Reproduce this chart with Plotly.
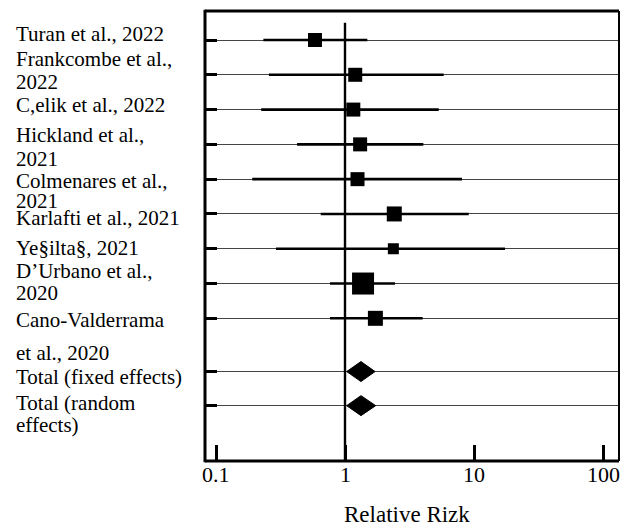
import math
import plotly.graph_objects as go

# ---------------- data ----------------
studies = [
    "Turan et al., 2022",
    "Frankcombe et al.,\n2022",
    "C,elik et al., 2022",
    "Hickland et al.,\n2021",
    "Colmenares et al.,\n2021",
    "Karlafti et al., 2021",
    "Ye§ilta§, 2021",
    "D’Urbano et al.,\n2020",
    "Cano-Valderrama\net al., 2020",
]
rr = [0.585, 1.20, 1.16, 1.31, 1.25, 2.41, 2.37, 1.38, 1.72]
ci_low = [0.233, 0.257, 0.224, 0.425, 0.191, 0.648, 0.292, 0.765, 0.765]
ci_high = [1.49, 5.82, 5.33, 4.05, 8.07, 9.10, 17.4, 2.44, 4.00]
weight_size = [14, 14, 14, 14, 14, 15, 11, 22, 15]

totals = ["Total (fixed effects)", "Total (random\neffects)"]
total_rr = [1.33, 1.33]
total_low = [1.03, 1.03]
total_high = [1.71, 1.73]

x_ticks = [0.1, 1, 10, 100]
x_ticktext = ["0.1", "1", "10", "100"]
x_title = "Relative Rizk"

# ---------------- layout helpers ----------------
W, H = 621, 528
M_L, M_R, M_T, M_B = 205, 2, 11, 67
PH = H - M_T - M_B
ROW0_PX, ROW_STEP = 40.0, 34.79
study_pos = list(range(len(studies)))
total_pos = [9.53, 10.51]
y_top = (M_T - ROW0_PX) / ROW_STEP
y_bot = (H - M_B - ROW0_PX) / ROW_STEP
FONT = "Liberation Serif, Times New Roman, serif"
TXT_SHIFT = -1.5


def py(px):
    return 1 - (px + TXT_SHIFT - M_T) / PH


fig = go.Figure()

# confidence intervals
cx, cy = [], []
for lo, hi, p in zip(ci_low, ci_high, study_pos):
    cx += [lo, hi, None]
    cy += [p, p, None]
fig.add_trace(go.Scatter(x=cx, y=cy, mode="lines",
                         line=dict(color="black", width=2.6),
                         hoverinfo="skip", showlegend=False))

# reference line at 1
fig.add_trace(go.Scatter(x=[1, 1], y=[-0.497, y_bot + 1], mode="lines",
                         line=dict(color="black", width=2.4),
                         hoverinfo="skip", showlegend=False))

# point estimates
fig.add_trace(go.Scatter(x=rr, y=study_pos, mode="markers",
                         marker=dict(symbol="square", size=weight_size,
                                     color="black", opacity=1,
                                     line=dict(width=0)),
                         showlegend=False))

# pooled diamonds
half_h = 10.0 / ROW_STEP
for lo, pt, hi, p in zip(total_low, total_rr, total_high, total_pos):
    fig.add_trace(go.Scatter(x=[lo, pt, hi, pt, lo],
                             y=[p, p - half_h, p, p + half_h, p],
                             mode="lines", fill="toself", fillcolor="black",
                             line=dict(color="black", width=1),
                             hoverinfo="skip", showlegend=False))

# study labels (one annotation per printed line)
label_line_px = [35.7, 60.7, 83.7, 107, 136.3, 160.7, 182.3, 202.3, 219.7,
                 249, 272, 294, 321.7, 354.7, 378, 404, 426.3]
lines = []
for lab in studies + totals:
    lines += lab.split("\n")
annotations = []
for txt, ypx in zip(lines, label_line_px):
    annotations.append(dict(text=txt, xref="paper", yref="paper",
                            x=(14 - M_L) / (W - M_L - M_R), xanchor="left",
                            y=py(ypx), yanchor="middle",
                            showarrow=False,
                            font=dict(family=FONT, size=21, color="black")))
# x tick labels
for v, t in zip(x_ticks, x_ticktext):
    annotations.append(dict(text=t, xref="x", yref="paper",
                            x=math.log10(v), xanchor="center",
                            y=py(475.5), yanchor="middle",
                            showarrow=False,
                            font=dict(family=FONT, size=22, color="black")))
annotations.append(dict(text=x_title, xref="paper", yref="paper",
                        x=(407 - M_L) / (W - M_L - M_R), xanchor="center",
                        y=py(515.5), yanchor="middle",
                        showarrow=False,
                        font=dict(family=FONT, size=23, color="black")))

# frame
shapes = [
    dict(type="line", xref="paper", yref="paper", x0=0, x1=0, y0=-0.003, y1=1.003,
         line=dict(color="black", width=3), layer="above"),
    dict(type="line", xref="paper", yref="paper", x0=0, x1=1, y0=1, y1=1,
         line=dict(color="black", width=3), layer="above"),
    dict(type="line", xref="paper", yref="paper", x0=0, x1=1, y0=0, y1=0,
         line=dict(color="black", width=3), layer="above"),
    dict(type="line", xref="paper", yref="paper", x0=1, x1=1, y0=0, y1=1,
         line=dict(color="black", width=2), layer="above"),
]

fig.update_layout(
    width=W, height=H,
    margin=dict(l=M_L, r=M_R, t=M_T, b=M_B, pad=0),
    paper_bgcolor="white", plot_bgcolor="white",
    showlegend=False,
    annotations=annotations, shapes=shapes,
    font=dict(family=FONT, color="black"),
    xaxis=dict(type="log", range=[-1.0853, 2.124],
               tickvals=x_ticks, showticklabels=False,
               ticks="inside", ticklen=16, tickwidth=2.5, tickcolor="black",
               showgrid=False, zeroline=False, showline=False),
    yaxis=dict(range=[y_bot, y_top], tickvals=study_pos + total_pos,
               showticklabels=False,
               ticks="inside", ticklen=12, tickwidth=2.5, tickcolor="black",
               showgrid=True, gridcolor="#444444", gridwidth=1.2,
               zeroline=False, showline=False),
)

fig.write_html("out.html")
